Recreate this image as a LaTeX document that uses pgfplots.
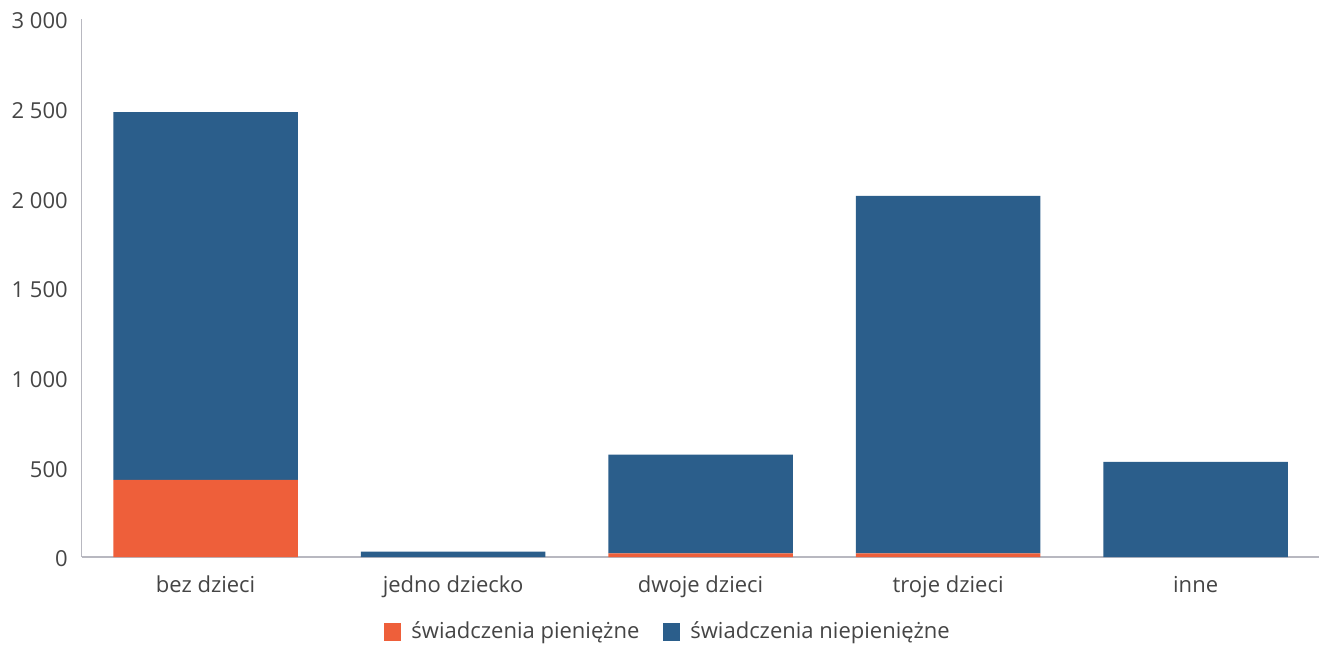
\documentclass[border=0pt]{standalone}
\usepackage{pgfplots}
\pgfplotsset{compat=1.18}
\usepackage{fontspec}
\setmainfont{Open Sans}
\definecolor{cash}{HTML}{EE5F3A}
\definecolor{noncash}{HTML}{2B5E8B}
\definecolor{txt}{HTML}{454545}
\definecolor{axl}{HTML}{B8B8C0}
\begin{document}
\begin{tikzpicture}
\begin{axis}[
  scale only axis,
  width=618.5pt, height=269pt,
  ybar stacked,
  bar width=0.745,
  xmin=-0.5, xmax=4.5,
  ymin=0, ymax=3000,
  xtick=data,
  xticklabels={bez dzieci, jedno dziecko, dwoje dzieci, troje dzieci, inne},
  ytick={0,500,1000,1500,2000,2500,3000},
  yticklabels={0,500,1 000,1 500,2 000,2 500,3 000},
  major tick length=0pt,
  axis x line*=bottom,
  axis y line*=left,
  axis line style={axl, line width=0.6pt},
  x axis line style={-},
  y axis line style={-},
  tick label style={font=\fontsize{11}{13}\selectfont, text=txt},
  yticklabel style={xshift=-3.5pt, yshift=-1pt},
  xticklabel style={yshift=-6pt},
  legend style={at={(0.4745,-0.105)}, anchor=north, draw=none, legend columns=2,
    font=\fontsize{11}{13}\selectfont, text=txt,
    /tikz/every odd column/.append style={column sep=3pt},
    /tikz/every even column/.append style={column sep=10pt}},
  legend image code/.code={\fill[#1] (-2pt,-4.5pt) rectangle (6.5pt,4.5pt);},
  clip=false,
]
\addplot[draw=none, fill=cash] coordinates {(0,430) (1,0) (2,20) (3,20) (4,0)};
\addlegendentry{świadczenia pieniężne}
\addplot[draw=none, fill=noncash] coordinates {(0,2050) (1,30) (2,550) (3,1993) (4,530)};
\addlegendentry{świadczenia niepieniężne}
\end{axis}
\path ([xshift=-2.5pt]current bounding box.west) ([yshift=3pt]current bounding box.north);
\end{tikzpicture}
\end{document}
